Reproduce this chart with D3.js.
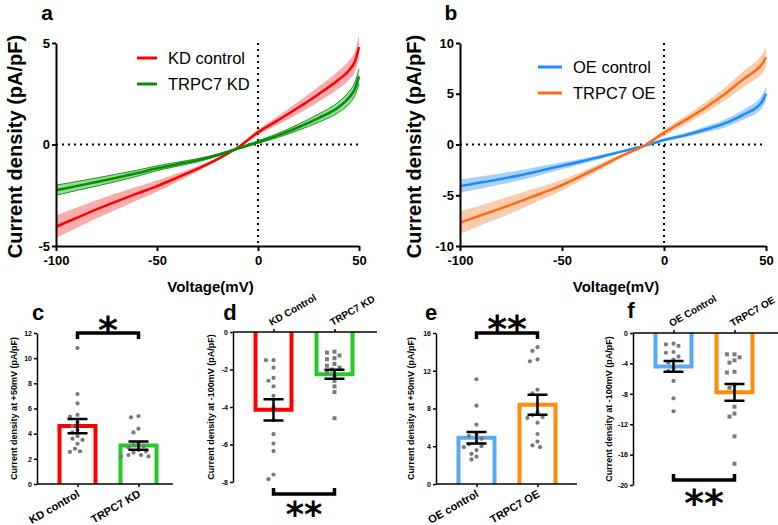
<!DOCTYPE html>
<html><head><meta charset="utf-8">
<script src="https://cdn.jsdelivr.net/npm/d3@7"></script>
<style>
body{margin:0;background:#fff}
svg{display:block;font-family:"Liberation Sans",Arial,sans-serif;font-weight:bold}
</style>
</head><body>
<svg id="chart" width="778" height="525"></svg>
<script>
// ---------- I-V curve data (panels a, b) ----------
const voltage        = [-100,-90,-80,-70,-60,-50,-40,-30,-20,-10,0,10,20,30,40,45,48,50];
const kdControlMean  = [-4.05,-3.62,-3.2,-2.8,-2.42,-2.05,-1.63,-1.2,-0.72,-0.15,0.6,1.2,1.82,2.48,3.2,3.65,4.1,4.8];
const kdControlSem   = [0.55,0.5,0.45,0.4,0.34,0.28,0.2,0.13,0.07,0.05,0.14,0.22,0.3,0.37,0.44,0.48,0.52,0.58];
const trpc7KdMean    = [-2.25,-2.05,-1.85,-1.64,-1.42,-1.17,-0.97,-0.78,-0.52,-0.2,0.12,0.45,0.85,1.3,1.85,2.3,2.75,3.35];
const trpc7KdSem     = [0.25,0.22,0.2,0.18,0.15,0.12,0.1,0.08,0.05,0.04,0.06,0.1,0.15,0.2,0.26,0.3,0.33,0.36];
const oeControlMean  = [-4.1,-3.75,-3.4,-3.0,-2.55,-2.1,-1.65,-1.15,-0.65,-0.15,0.45,0.9,1.45,2.1,3.05,3.6,4.2,5.0];
const oeControlSem   = [0.65,0.6,0.55,0.5,0.42,0.35,0.27,0.2,0.12,0.08,0.15,0.22,0.3,0.4,0.5,0.58,0.64,0.7];
const trpc7OeMean    = [-7.7,-7.0,-6.3,-5.55,-4.8,-4.0,-3.05,-2.05,-1.05,-0.15,1.15,2.35,3.6,5.0,6.6,7.3,7.9,8.6];
const trpc7OeSem     = [1.1,1.0,0.9,0.8,0.65,0.52,0.4,0.28,0.17,0.12,0.3,0.42,0.52,0.65,0.8,0.88,0.95,1.0];
const ivXTicks  = [-100,-50,0,50];
const ivATicks  = [-5,0,5];
const ivBTicks  = [-10,-5,0,5,10];

// ---------- bar panel data (c, d, e, f) ----------
const kdCats    = ["KD control","TRPC7 KD"];
const kdCatsTop = ["KD Control","TRPC7 KD"];
const oeCats    = ["OE control","TRPC7 OE"];
const oeCatsTop = ["OE Control","TRPC7 OE"];

const cMeans = [4.6, 3.05];
const cSems  = [0.57, 0.32];
const cKdControl = [10.8,7.15,6.4,5.5,5.35,4.9,4.6,4.3,4.1,3.8,3.6,3.5,3.2,2.8,2.6,2.55];
const cTrpc7Kd   = [5.4,5.3,4.4,4.1,3.3,3.1,3.0,2.9,2.7,2.6,2.5,2.3,2.2,2.2,2.3];
const cTicks = [0,2,4,6,8,10,12];

const dMeans = [-4.15, -2.25];
const dSems  = [0.57, 0.24];
const dKdControl = [-1.5,-1.5,-1.9,-2.45,-2.6,-2.9,-3.4,-4.0,-4.7,-5.45,-5.95,-6.35,-7.6,-7.85];
const dTrpc7Kd   = [-1.05,-1.1,-1.25,-1.4,-1.45,-1.7,-1.8,-1.9,-2.0,-2.15,-2.3,-2.6,-2.9,-3.2,-4.6];
const dTicks = [-8,-6,-4,-2,0];

const eMeans = [4.9, 8.4];
const eSems  = [0.62, 1.05];
const eOeControl = [11.1,8.3,6.3,5.3,5.1,4.8,4.4,4.2,4.0,3.9,3.6,3.2,2.9,2.6];
const eTrpc7Oe   = [14.5,14.1,13.2,13.0,10.0,9.6,7.6,7.3,7.1,7.0,6.5,5.3,4.5,4.1,3.9];
const eTicks = [0,4,8,12,16];

const fMeans = [-4.4, -7.8];
const fSems  = [0.7, 1.1];
const fOeControl = [-1.4,-1.5,-1.7,-2.5,-2.6,-3.1,-3.5,-3.9,-4.6,-5.0,-6.3,-8.6,-10.3];
const fTrpc7Oe   = [-2.8,-2.8,-3.2,-3.6,-3.9,-5.1,-5.2,-6.8,-7.2,-9.7,-10.6,-11.0,-13.6,-17.2];
const fTicks = [-20,-16,-12,-8,-4,0];

// ---------- drawing ----------
const svg = d3.select("#chart");

function styleAxis(g, fs, sw){
  g.attr("font-family",null).attr("font-size",null);
  g.selectAll(".domain").attr("stroke","#000").attr("stroke-width",sw);
  g.selectAll(".tick line").attr("stroke","#000").attr("stroke-width",sw);
  g.selectAll(".tick text").attr("font-size",fs).attr("font-weight","bold").attr("fill","#000");
}

function ivPanel(o){
  const g = svg.append("g");
  const x = d3.scaleLinear().domain([-100,50]).range([o.left,o.right]);
  const y = d3.scaleLinear().domain(o.yDomain).range([o.bottom,o.top]);
  g.append("line").attr("x1",x(0)).attr("x2",x(0)).attr("y1",y(o.yDomain[1])).attr("y2",y(o.yDomain[0]))
    .attr("stroke","#000").attr("stroke-width",2).attr("stroke-dasharray","2,4");
  g.append("line").attr("x1",x(-100)).attr("x2",x(50)).attr("y1",y(0)).attr("y2",y(0))
    .attr("stroke","#000").attr("stroke-width",2).attr("stroke-dasharray","2,4");
  o.series.forEach(s=>{
    const pts = voltage.map((v,i)=>({v, m:s.mean[i], e:s.sem[i]}));
    const area = d3.area().x(d=>x(d.v)).y0(d=>y(d.m-d.e)).y1(d=>y(d.m+d.e)).curve(d3.curveMonotoneX);
    g.append("path").attr("d",area(pts)).attr("fill",s.band).attr("stroke","none");
    if(s.edge){
      ["lo","hi"].forEach(k=>{
        const ln = d3.line().x(d=>x(d.v)).y(d=>y(k==="lo"?d.m-d.e:d.m+d.e)).curve(d3.curveMonotoneX);
        g.append("path").attr("d",ln(pts)).attr("fill","none").attr("stroke",s.edge).attr("stroke-width",1);
      });
    }
    const line = d3.line().x(d=>x(d.v)).y(d=>y(d.m)).curve(d3.curveMonotoneX);
    g.append("path").attr("d",line(pts)).attr("fill","none").attr("stroke",s.line).attr("stroke-width",2.5);
  });
  const ya = g.append("g").attr("transform",`translate(${o.left},0)`)
    .call(d3.axisLeft(y).tickValues(o.yTicks).tickSize(4).tickSizeOuter(0).tickPadding(2));
  styleAxis(ya,13,2);
  const xa = g.append("g").attr("transform",`translate(0,${o.bottom})`)
    .call(d3.axisBottom(x).tickValues(ivXTicks).tickSize(5).tickSizeOuter(0).tickPadding(5));
  styleAxis(xa,13,2);
  xa.selectAll(".tick text").text(d=>d<0?"-"+Math.abs(d):d);
  ya.selectAll(".tick text").text(d=>d<0?"-"+Math.abs(d):d);
  g.append("text").attr("transform",`translate(${o.ylabelX},${(o.top+o.bottom)/2+2}) rotate(-90)`)
    .attr("text-anchor","middle").attr("font-size",20).text("Current density (pA/pF)");
  g.append("text").attr("x",(o.left+o.right)/2+3).attr("y",292).attr("text-anchor","middle")
    .attr("font-size",15).text("Voltage(mV)");
  g.append("text").attr("x",o.letterX).attr("y",20).attr("text-anchor","middle").attr("font-size",21).text(o.letter);
  o.series.forEach((s,i)=>{
    const ly = o.legend.y + i*o.legend.gap;
    g.append("line").attr("x1",o.legend.x).attr("x2",o.legend.x+o.legend.len).attr("y1",ly).attr("y2",ly)
      .attr("stroke",s.line).attr("stroke-width",3);
    g.append("text").attr("x",o.legend.tx).attr("y",ly+6).attr("font-size",16.5).attr("font-weight","normal")
      .text(s.name);
  });
}

ivPanel({left:56,right:359,top:43,bottom:246,yDomain:[-5,5],yTicks:ivATicks,ylabelX:22,letter:"a",letterX:47,
  legend:{x:137,len:20,tx:168,y:58,gap:26},
  series:[
    {name:"KD control",mean:kdControlMean,sem:kdControlSem,line:"#ff0000",band:"rgba(244,90,90,0.5)"},
    {name:"TRPC7 KD",mean:trpc7KdMean,sem:trpc7KdSem,line:"#0a8a0a",band:"rgba(60,190,60,0.55)",edge:"#1a9a1a"}
  ]});
ivPanel({left:460,right:766,top:43,bottom:246,yDomain:[-10,10],yTicks:ivBTicks,ylabelX:421,letter:"b",letterX:451,
  legend:{x:538,len:24,tx:573,y:67,gap:26},
  series:[
    {name:"OE control",mean:oeControlMean,sem:oeControlSem,line:"#1a8cff",band:"rgba(100,170,240,0.55)"},
    {name:"TRPC7 OE",mean:trpc7OeMean,sem:trpc7OeSem,line:"#ff6a14",band:"rgba(245,170,120,0.6)"}
  ]});

function swarm(vals, y, r){
  const placed = [];
  const sorted = vals.map((v,i)=>({v,i,py:y(v)})).sort((a,b)=>a.py-b.py);
  const step = r*1.2;
  sorted.forEach(p=>{
    let k=0, dx=0;
    while(true){
      dx = (k%2===0?1:-1)*Math.ceil(k/2)*step;
      if(placed.every(q=>Math.hypot(q.dx-dx,q.py-p.py)>=2*r+1.2)) break;
      k++;
    }
    p.dx=dx; placed.push(p);
  });
  return placed;
}

function barPanel(o){
  const g = svg.append("g");
  const y = d3.scaleLinear().domain(o.domain).range([o.bottom,o.top]);
  const x = d3.scalePoint().domain(o.cats).range([o.axisX+40.5,o.axisX+101.5]);
  const base = y(0);
  const hw = 18;
  o.cats.forEach((c,i)=>{
    const cx = x(c), m = o.means[i];
    g.append("path").attr("d",`M${cx-hw},${base}V${y(m)}H${cx+hw}V${base}`)
      .attr("fill","none").attr("stroke",o.colors[i]).attr("stroke-width",4);
    const pts = swarm(o.points[i], y, 2.1);
    pts.forEach(p=>{
      if(o.shapes[i]==="square"){
        g.append("rect").attr("x",cx+p.dx-2).attr("y",p.py-2).attr("width",4).attr("height",4).attr("fill","#7a7a7a");
      } else {
        g.append("circle").attr("cx",cx+p.dx).attr("cy",p.py).attr("r",2.1).attr("fill","#7a7a7a");
      }
    });
    const e = o.sems[i];
    g.append("path").attr("d",`M${cx},${y(m-e)}V${y(m+e)}M${cx-10},${y(m+e)}H${cx+10}M${cx-10},${y(m-e)}H${cx+10}`)
      .attr("stroke","#000").attr("stroke-width",2.5).attr("fill","none");
  });
  const ya = g.append("g").attr("transform",`translate(${o.axisX},0)`)
    .call(d3.axisLeft(y).tickValues(o.ticks).tickSize(3).tickSizeOuter(0).tickPadding(2));
  styleAxis(ya,7,1.5);
  ya.selectAll(".tick text").text(d=>d<0?"-"+Math.abs(d):d);
  const xaxis = o.labelTop ? d3.axisTop(x) : d3.axisBottom(x);
  const xa = g.append("g").attr("transform",`translate(0,${base})`)
    .call(xaxis.tickSize(3).tickSizeOuter(0).tickFormat(""));
  styleAxis(xa,7,1.5);
  xa.select(".domain").attr("d",`M${o.axisX},0H${o.axisEnd}`);
  o.cats.forEach((c,i)=>{
    const cx = x(c);
    if(o.labelTop){
      g.append("text").attr("transform",`translate(${cx-2},${base-6}) rotate(-30)`)
        .attr("font-size",10).text(o.catLabels[i]);
    } else {
      g.append("text").attr("transform",`translate(${cx+3},${base+12}) rotate(-30)`)
        .attr("text-anchor","end").attr("font-size",11).text(o.catLabels[i]);
    }
  });
  g.append("text").attr("transform",`translate(${o.ylabelX},${(o.top+o.bottom)/2}) rotate(-90)`)
    .attr("text-anchor","middle").attr("font-size",9).text(o.ylabel);
  g.append("text").attr("x",o.letterX).attr("y",o.letterY).attr("text-anchor","middle").attr("font-size",22).text(o.letter);
  const x1 = x(o.cats[0]), x2 = x(o.cats[1]);
  const dir = o.bracketDir;
  g.append("path").attr("d",`M${x1},${o.bracketY+dir*6}V${o.bracketY}H${x2}V${o.bracketY+dir*6}`)
    .attr("fill","none").attr("stroke","#000").attr("stroke-width",3.5);
  g.append("text").attr("x",(x1+x2)/2).attr("y",o.starY).attr("text-anchor","middle")
    .attr("font-family","'DejaVu Sans',sans-serif").attr("font-size",o.starSize).text(o.stars);
}

barPanel({axisX:37,axisEnd:173,top:333,bottom:484,domain:[0,12],ticks:cTicks,cats:kdCats,catLabels:kdCats,
  means:cMeans,sems:cSems,points:[cKdControl,cTrpc7Kd],colors:["#ff0000","#22cc22"],shapes:["circle","circle"],
  labelTop:false,ylabel:"Current density at +50mV (pA/pF)",ylabelX:17,letter:"c",letterX:38,letterY:320,
  bracketY:333,bracketDir:1,starY:343,starSize:38,stars:"*"});
barPanel({axisX:233,axisEnd:377,top:332,bottom:482,domain:[-8,0],ticks:dTicks,cats:kdCats,catLabels:kdCatsTop,
  means:dMeans,sems:dSems,points:[dKdControl,dTrpc7Kd],colors:["#ff0000","#22cc22"],shapes:["circle","square"],
  labelTop:true,ylabel:"Current density at -100mV (pA/pF)",ylabelX:214,letter:"d",letterX:230,letterY:320,
  bracketY:494,bracketDir:-1,starY:517,starSize:35,stars:"⁎⁎"});
barPanel({axisX:436,axisEnd:577,top:333,bottom:484,domain:[0,16],ticks:eTicks,cats:oeCats,catLabels:oeCats,
  means:eMeans,sems:eSems,points:[eOeControl,eTrpc7Oe],colors:["#5aa9f5","#ff8c0a"],shapes:["circle","circle"],
  labelTop:false,ylabel:"Current density at +50mV (pA/pF)",ylabelX:414,letter:"e",letterX:431,letterY:320,
  bracketY:333,bracketDir:1,starY:342,starSize:38,stars:"**"});
barPanel({axisX:633,axisEnd:778,top:333,bottom:485,domain:[-20,0],ticks:fTicks,cats:oeCats,catLabels:oeCatsTop,
  means:fMeans,sems:fSems,points:[fOeControl,fTrpc7Oe],colors:["#5aa9f5","#ff8c0a"],shapes:["circle","square"],
  labelTop:true,ylabel:"Current density at -100mV (pA/pF)",ylabelX:612,letter:"f",letterX:631,letterY:318,
  bracketY:480,bracketDir:-1,starY:516,starSize:38,stars:"**"});
</script>
</body></html>
